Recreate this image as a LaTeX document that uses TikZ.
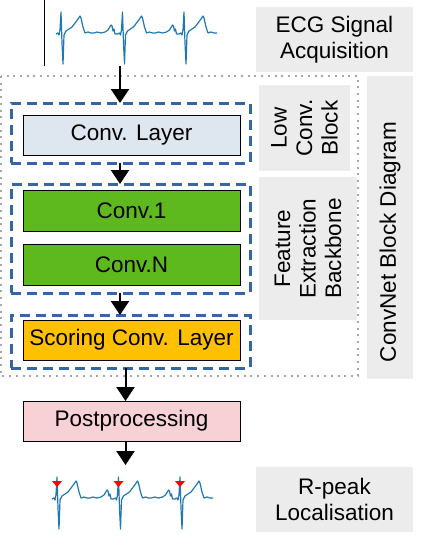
\documentclass[tikz,border=0pt]{standalone}
\usepackage{fontspec}
\setmainfont{Liberation Sans}
\usetikzlibrary{arrows.meta}

\definecolor{layerblue}{HTML}{DEE6EF}
\definecolor{layergreen}{HTML}{5EB91E}
\definecolor{layerorange}{HTML}{FFC000}
\definecolor{layerpink}{HTML}{F7D1D5}
\definecolor{taggray}{HTML}{ECECEC}
\definecolor{groupblue}{HTML}{3465A4}
\definecolor{sigblue}{HTML}{1F77B4}

\begin{document}
\begin{tikzpicture}[x=1pt,y=-1pt,
    every node/.style={font=\fontsize{22.5}{25.5}\selectfont, inner sep=0pt, outer sep=0pt},
    layer/.style={draw=black, line width=0.6pt, minimum width=217pt, minimum height=40pt},
    group/.style={draw=groupblue, line width=3pt, dash pattern=on 10pt off 6pt, minimum width=239pt},
    tag/.style={fill=taggray, align=center},
    flow/.style={line width=2pt, -{Triangle[length=14pt,width=18pt]}},
    sig/.style={draw=sigblue, line width=1.2pt, line join=round},
    qrs/.pic={\draw[sig] (-5,1) -- (-3,0) -- (-2,2) -- (-1,-3) -- (0,-21) -- (1,10) -- (2,31) -- (3,2)
        -- (5,-2) -- (8,-4) -- (11,-6) -- (14,-10) -- (17,-14) -- (19,-17) -- (20,-15) -- (22,-6)
        -- (24,0) -- (27,-1) -- (30,0) -- (33,0);},
    pwave/.pic={\draw[sig] (33,0) -- (36,-1) -- (40,0) -- (44,-1) -- (47,-3) -- (50,-8) -- (51,-7)
        -- (52,-2) -- (53,-4) -- (54,1) -- (56.5,1);}
  ]
    \useasboundingbox (0,0) rectangle (426,558);

    \coordinate (ax) at (120,0);
    \coordinate (bx) at (125.5,0);

    % input signal
    \draw[line width=1pt] (44,0) -- (44,66);
    \foreach \r in {61,122.5,184} \pic at (\r,33) {qrs};
    \foreach \r in {61,122.5} \pic at (\r,33) {pwave};
    \node (ecgin) [minimum width=162pt, minimum height=56pt] at (137,38) {};

    % network
    \node (lowblk) [group, minimum height=60pt] at (130.5,133) {};
    \node (convlayer) [layer, fill=layerblue] at (131.5,135) {Conv. Layer};
    \node (featblk) [group, minimum height=109pt] at (130.5,238.5) {};
    \node (convone) [layer, fill=layergreen, minimum height=41pt] at (131.5,210.5) {Conv.1};
    \node (convn) [layer, fill=layergreen, minimum height=41pt] at (131.5,264.5) {Conv.N};
    \node (scoreblk) [group, minimum height=53pt] at (130.5,341.5) {};
    \node (scoring) [layer, fill=layerorange] at (131.5,340) {Scoring Conv. Layer};
    \node (post) [layer, fill=layerpink] at (131.5,421) {Postprocessing};

    % labels
    \node (ecgtag) [tag, minimum width=157pt, minimum height=65pt] at (334.5,39.5) {ECG Signal\\Acquisition};
    \node (lowtag) [tag, rotate=90, minimum width=86pt, minimum height=91pt] at (304.5,128) {Low\\Conv.\\Block};
    \node (feattag) [tag, rotate=90, minimum width=143pt, minimum height=98pt] at (308,248.5) {Feature\\Extraction\\Backbone};
    \node (nettag) [tag, minimum width=46pt, minimum height=303pt] at (390,227) {};
    \node [rotate=90] at ([yshift=-15pt]nettag.center) {ConvNet Block Diagram};
    \node (rtag) [tag, minimum width=157pt, minimum height=65pt] at (334.5,499.5) {R-peak\\Localisation};

    \draw[gray!70, line width=2pt, dash pattern=on 2pt off 4.7pt] (1,76) rectangle (358,376);

    % output signal
    \node (ecgout) [minimum width=160pt, minimum height=64pt] at (132,497) {};
    \foreach \r in {57,118.5,180} \pic at (\r,498) {qrs};
    \foreach \r in {57,118.5} \pic at (\r,498) {pwave};
    \foreach \r in {57,118.5,180} \fill[red] ({\r-5},481) -- ({\r+5},481) -- (\r,487) -- cycle;

    \draw[flow] (ecgin.south -| ax) -- (lowblk.north -| ax);
    \draw[flow] (lowblk.south -| ax) -- (featblk.north -| ax);
    \draw[flow] (featblk.south -| ax) -- (scoreblk.north -| ax);
    \draw[flow] (scoreblk.south -| bx) -- (post.north -| bx);
    \draw[flow] (post.south -| bx) -- (ecgout.north -| bx);
\end{tikzpicture}
\end{document}
